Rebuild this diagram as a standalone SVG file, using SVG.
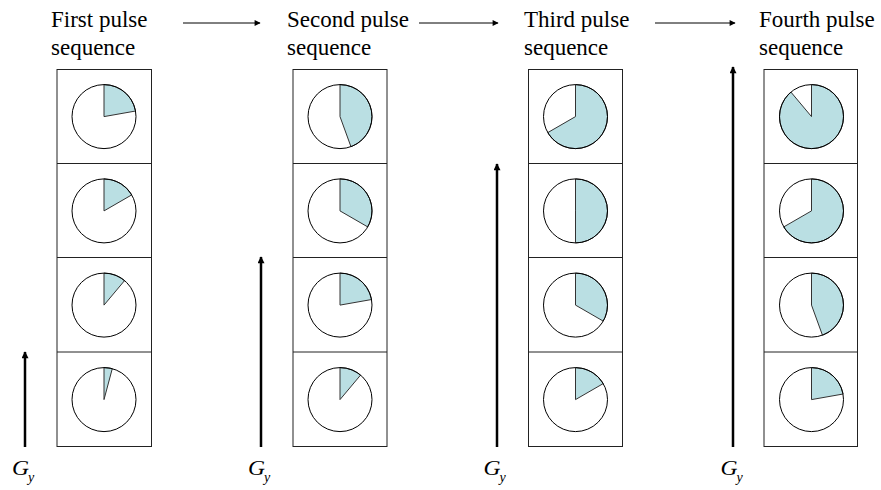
<svg xmlns="http://www.w3.org/2000/svg" width="881" height="490" viewBox="0 0 881 490">
<defs>
<style>
.hdr{font-family:"Liberation Serif","Times New Roman",serif;font-size:23px;fill:#000}
.g{font-family:"Liberation Serif","Times New Roman",serif;font-style:italic;font-size:21px;fill:#000}
.gs{font-family:"Liberation Serif","Times New Roman",serif;font-style:italic;font-size:14px;fill:#000}
.box{fill:#fff;stroke:#222;stroke-width:1}
.div{stroke:#222;stroke-width:1}
.bg{fill:#fff;stroke:none}
.wedge{fill:#badfe3;stroke:#333;stroke-width:1;stroke-linejoin:round}
.rim{fill:none;stroke:#000;stroke-width:1}
.harr{stroke:#000;stroke-width:1;fill:none}
.varr{stroke:#000;stroke-width:2.5;fill:none}
</style>
<marker id="ah" viewBox="0 0 10 10" refX="9" refY="5" markerWidth="8" markerHeight="6" markerUnits="userSpaceOnUse" orient="auto"><path d="M0,0 L10,5 L0,10 Z" fill="#000"/></marker>
<marker id="av" viewBox="0 0 10 10" refX="9" refY="5" markerWidth="9" markerHeight="7" markerUnits="userSpaceOnUse" orient="auto"><path d="M0,0 L10,5 L0,10 Z" fill="#000"/></marker>
</defs>
<rect width="881" height="490" fill="#fff"/>

<g id="connectors">
<line class="harr" x1="183" y1="23" x2="260" y2="23" marker-end="url(#ah)"/>
<line class="harr" x1="419" y1="23" x2="498" y2="23" marker-end="url(#ah)"/>
<line class="harr" x1="655" y1="23" x2="735" y2="23" marker-end="url(#ah)"/>
<line class="varr" x1="25" y1="447" x2="25" y2="352" marker-end="url(#av)"/>
<line class="varr" x1="261" y1="447" x2="261" y2="257" marker-end="url(#av)"/>
<line class="varr" x1="497" y1="447" x2="497" y2="164" marker-end="url(#av)"/>
<line class="varr" x1="733" y1="447" x2="733" y2="67" marker-end="url(#av)"/>
</g>

<g id="seq1">
<text class="hdr" x="51" y="27">First pulse</text>
<text class="hdr" x="51" y="55">sequence</text>
<rect class="box" x="57" y="69.5" width="94.5" height="377"/>
<line class="div" x1="57" y1="163.5" x2="151.5" y2="163.5"/>
<line class="div" x1="57" y1="257.5" x2="151.5" y2="257.5"/>
<line class="div" x1="57" y1="352" x2="151.5" y2="352"/>
<g transform="translate(104,116.6)"><circle class="bg" r="32"/><path class="wedge" d="M0,0 L0,-32 A32,32 0 0 1 31.51,-5.56 Z"/><circle class="rim" r="32"/></g>
<g transform="translate(104,210.9)"><circle class="bg" r="32"/><path class="wedge" d="M0,0 L0,-32 A32,32 0 0 1 27.71,-16 Z"/><circle class="rim" r="32"/></g>
<g transform="translate(104,305.1)"><circle class="bg" r="32"/><path class="wedge" d="M0,0 L0,-32 A32,32 0 0 1 20.57,-24.51 Z"/><circle class="rim" r="32"/></g>
<g transform="translate(104,399.6)"><circle class="bg" r="32"/><path class="wedge" d="M0,0 L0,-32 A32,32 0 0 1 8.28,-30.91 Z"/><circle class="rim" r="32"/></g>
<text class="g" x="12" y="474.5" textLength="17" lengthAdjust="spacingAndGlyphs">G</text><text class="gs" x="28" y="481.5">y</text>
</g>

<g id="seq2">
<text class="hdr" x="287" y="27">Second pulse</text>
<text class="hdr" x="287" y="55">sequence</text>
<rect class="box" x="293" y="69.5" width="94" height="377"/>
<line class="div" x1="293" y1="163.5" x2="387" y2="163.5"/>
<line class="div" x1="293" y1="257.5" x2="387" y2="257.5"/>
<line class="div" x1="293" y1="352" x2="387" y2="352"/>
<g transform="translate(340,116.6)"><circle class="bg" r="32"/><path class="wedge" d="M0,0 L0,-32 A32,32 0 0 1 10.94,30.07 Z"/><circle class="rim" r="32"/></g>
<g transform="translate(340,210.9)"><circle class="bg" r="32"/><path class="wedge" d="M0,0 L0,-32 A32,32 0 0 1 27.71,16 Z"/><circle class="rim" r="32"/></g>
<g transform="translate(340,305.1)"><circle class="bg" r="32"/><path class="wedge" d="M0,0 L0,-32 A32,32 0 0 1 31.51,-5.56 Z"/><circle class="rim" r="32"/></g>
<g transform="translate(340,399.6)"><circle class="bg" r="32"/><path class="wedge" d="M0,0 L0,-32 A32,32 0 0 1 20.57,-24.51 Z"/><circle class="rim" r="32"/></g>
<text class="g" x="248" y="474.5" textLength="17" lengthAdjust="spacingAndGlyphs">G</text><text class="gs" x="264" y="481.5">y</text>
</g>

<g id="seq3">
<text class="hdr" x="524" y="27">Third pulse</text>
<text class="hdr" x="524" y="55">sequence</text>
<rect class="box" x="528.5" y="69.5" width="94" height="377"/>
<line class="div" x1="528.5" y1="163.5" x2="622.5" y2="163.5"/>
<line class="div" x1="528.5" y1="257.5" x2="622.5" y2="257.5"/>
<line class="div" x1="528.5" y1="352" x2="622.5" y2="352"/>
<g transform="translate(575.5,116.6)"><circle class="bg" r="32"/><path class="wedge" d="M0,0 L0,-32 A32,32 0 1 1 -27.71,16 Z"/><circle class="rim" r="32"/></g>
<g transform="translate(575.5,210.9)"><circle class="bg" r="32"/><path class="wedge" d="M0,0 L0,-32 A32,32 0 0 1 0,32 Z"/><circle class="rim" r="32"/></g>
<g transform="translate(575.5,305.1)"><circle class="bg" r="32"/><path class="wedge" d="M0,0 L0,-32 A32,32 0 0 1 27.71,16 Z"/><circle class="rim" r="32"/></g>
<g transform="translate(575.5,399.6)"><circle class="bg" r="32"/><path class="wedge" d="M0,0 L0,-32 A32,32 0 0 1 27.71,-16 Z"/><circle class="rim" r="32"/></g>
<text class="g" x="483.5" y="474.5" textLength="17" lengthAdjust="spacingAndGlyphs">G</text><text class="gs" x="499.5" y="481.5">y</text>
</g>

<g id="seq4">
<text class="hdr" x="759" y="27">Fourth pulse</text>
<text class="hdr" x="759" y="55">sequence</text>
<rect class="box" x="764" y="69.5" width="93.5" height="377"/>
<line class="div" x1="764" y1="163.5" x2="857.5" y2="163.5"/>
<line class="div" x1="764" y1="257.5" x2="857.5" y2="257.5"/>
<line class="div" x1="764" y1="352" x2="857.5" y2="352"/>
<g transform="translate(811.5,116.6)"><circle class="bg" r="32"/><path class="wedge" d="M0,0 L0,-32 A32,32 0 1 1 -20.57,-24.51 Z"/><circle class="rim" r="32"/></g>
<g transform="translate(811.5,210.9)"><circle class="bg" r="32"/><path class="wedge" d="M0,0 L0,-32 A32,32 0 1 1 -27.71,16 Z"/><circle class="rim" r="32"/></g>
<g transform="translate(811.5,305.1)"><circle class="bg" r="32"/><path class="wedge" d="M0,0 L0,-32 A32,32 0 0 1 10.94,30.07 Z"/><circle class="rim" r="32"/></g>
<g transform="translate(811.5,399.6)"><circle class="bg" r="32"/><path class="wedge" d="M0,0 L0,-32 A32,32 0 0 1 31.51,-5.56 Z"/><circle class="rim" r="32"/></g>
<text class="g" x="720.5" y="474.5" textLength="17" lengthAdjust="spacingAndGlyphs">G</text><text class="gs" x="736.5" y="481.5">y</text>
</g>
</svg>
